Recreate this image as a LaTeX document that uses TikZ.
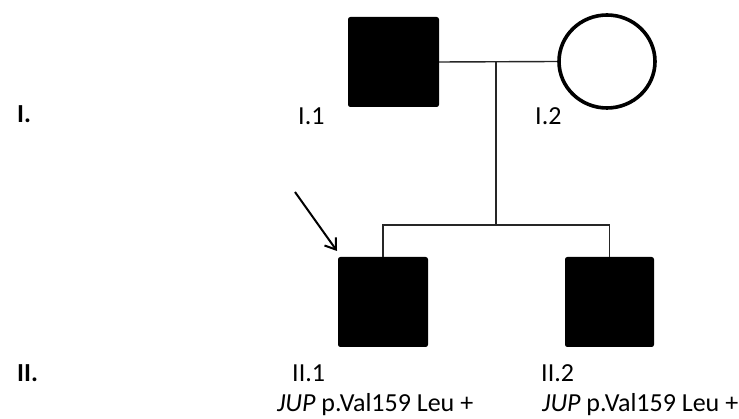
\documentclass[tikz,border=0pt]{standalone}
\usepackage{fontspec}
\setmainfont{Carlito}
\usetikzlibrary{arrows.meta,shapes.geometric}
\begin{document}
\begin{tikzpicture}[x=1pt,y=-1pt,
  male/.style={draw=black,fill=black,rectangle,rounded corners=2pt,line width=1pt,inner sep=0pt},
  female/.style={draw=black,fill=white,ellipse,line width=3.6pt,inner sep=0pt,minimum width=96pt,minimum height=93pt},
  link/.style={draw=black!85,line width=1.4pt},
  lbl/.style={anchor=base west,inner sep=0pt,font=\fontsize{26}{30}\selectfont},
  gen/.style={lbl,font=\fontsize{26}{30}\selectfont\bfseries}]
\useasboundingbox (0,0) rectangle (739,419);
% generation I
\node[male,minimum width=90pt,minimum height=89pt] (m1) at (393.5,62) {};
\node[female] (f1) at (607,61.5) {};
% generation II
\node[male,minimum width=89pt,minimum height=89pt] (c1) at (383,302) {};
\node[male,minimum width=88pt,minimum height=89pt] (c2) at (609.5,302) {};
% mating and sibship lines
\coordinate (mid) at (496,61.5);
\coordinate (sib) at (496,225);
\draw[link] (m1.east) -- (f1.west);
\draw[link] (mid) -- (sib);
\draw[link] (c1.north) -- (c1.north |- sib) -- (c2.north |- sib) -- (c2.north);
% proband arrow
\coordinate (ptail) at (295,192);
\coordinate (ptip) at (337,251);
\draw[line width=2pt,-{Straight Barb[length=10pt,width=14pt,line width=2pt]}] (ptail) -- (ptip);
% generation numerals
\node[gen] (g1) at (17,123) {I.};
\node[gen] (g2) at (17,382) {II.};
% individual labels
\node[lbl] (l11) at (298,125) {I.1};
\node[lbl] (l12) at (535,125) {I.2};
\node[lbl] (l21) at (292,382) {II.1};
\node[lbl] (l22) at (541,382) {II.2};
\node[lbl] (v1) at (277,412) {\textit{JUP} p.Val159 Leu +};
\node[lbl] (v2) at (542,412) {\textit{JUP} p.Val159 Leu +};
\end{tikzpicture}
\end{document}
